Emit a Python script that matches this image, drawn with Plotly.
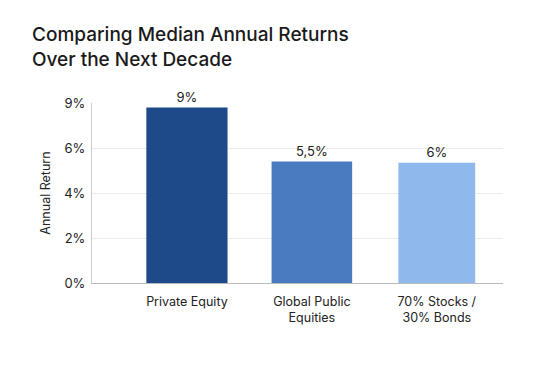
import plotly.graph_objects as go

categories = ["Private Equity", "Global Public<br>Equities", "70% Stocks /<br>30% Bonds"]
values = [7.8, 5.4, 5.35]
value_labels = ["9%", "5,5%", "6%"]
tick_vals = [0, 2, 4, 6, 8]
tick_text = ["0%", "2%", "4%", "6%", "9%"]
colors = ["#1E4A8A", "#4A7BC1", "#8FB8EC"]
widths = [0.65, 0.645, 0.615]

FONT = "Inter, Roboto, sans-serif"

fig = go.Figure(go.Bar(
    x=[0, 1, 2],
    y=values,
    width=widths,
    marker=dict(color=colors, line=dict(width=0)),
    text=value_labels,
    textposition="outside",
    textfont=dict(family=FONT, size=13, color="#222"),
    cliponaxis=False,
))

fig.update_layout(
    width=553, height=369,
    paper_bgcolor="white", plot_bgcolor="white",
    margin=dict(l=84, r=58, t=95, b=94),
    showlegend=False,
    title=dict(
        text="Comparing Median Annual Returns<br>Over the Next Decade",
        x=24/553, xanchor="left", xref="container",
        y=1-33/369, yanchor="top", yref="container",
        font=dict(family=FONT, size=19, color="#1a1a1a", weight=500),
    ),
    font=dict(family=FONT, color="#222"),
)
fig.update_xaxes(
    range=[-0.76, 2.53],
    tickvals=[0, 1, 2], ticktext=categories,
    tickfont=dict(family=FONT, size=12.5, color="#222"),
    showline=True, linecolor="#bbbbbb", linewidth=1,
    showgrid=False, ticks="", zeroline=False,
    ticklabelstandoff=7,
)
fig.update_yaxes(
    range=[0, 8],
    tickvals=tick_vals, ticktext=tick_text,
    tickfont=dict(family=FONT, size=13, color="#222"),
    showline=True, linecolor="#cccccc", linewidth=1,
    showgrid=True, gridcolor="#ececec", gridwidth=1,
    zeroline=False, ticks="",
    ticklabelstandoff=3,
    title=dict(text="Annual Return", font=dict(family=FONT, size=12.5, color="#222"), standoff=10),
)

fig.write_html("out.html")
